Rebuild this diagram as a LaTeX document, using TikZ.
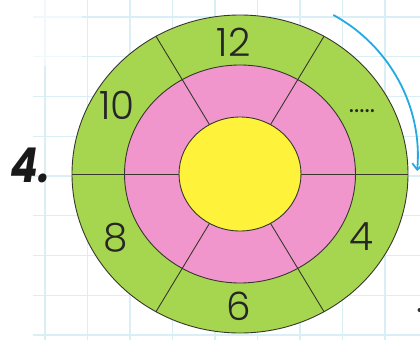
\documentclass[tikz,border=0pt]{standalone}
\usepackage{fontspec}
\setmainfont{Poppins}
\IfFontExistsTF{Poppins Light}{\newfontfamily\digitfont{Poppins Light}}{\newfontfamily\digitfont{Poppins}}
\usetikzlibrary{arrows.meta}
\definecolor{ringgreen}{RGB}{166,214,79}
\definecolor{ringpink}{RGB}{240,150,204}
\definecolor{coreyellow}{RGB}{255,242,58}
\definecolor{gridblue}{RGB}{218,238,246}
\definecolor{arcblue}{RGB}{35,170,226}
\definecolor{inkline}{RGB}{55,55,45}
\tikzset{
  gridline/.style={draw=gridblue, line width=1.2pt},
  ringline/.style={draw=inkline, line width=0.9pt},
  numlabel/.style={inner sep=0pt, font=\digitfont\fontsize{39}{39}\selectfont, text=black!85},
}
\begin{document}
\begin{tikzpicture}[x=1pt,y=-1pt]
\useasboundingbox (0,0) rectangle (420,340);
\fill[white] (0,0) rectangle (420,340);
% grid
\foreach \x in {45,87.5,...,400} \draw[gridline] (\x,0) -- (\x,340);
\foreach \y in {17,56.75,...,340} \draw[gridline] (33,\y) -- (420,\y);
\fill[white, opacity=0.6] (33,0) rectangle (82,66);
% rings
\coordinate (c) at (240,174);
\filldraw[ringline, fill=ringgreen] (c) ellipse [x radius=168pt, y radius=159pt];
\filldraw[ringline, fill=ringpink] (c) ellipse [x radius=115.5pt, y radius=109pt];
\filldraw[ringline, fill=coreyellow] (c) ellipse [x radius=61pt, y radius=57pt];
% spokes
\foreach \t in {0,60,120,180,240,300}
  \draw[ringline] ({240+61*cos(\t)},{174-57*sin(\t)}) -- ({240+168*cos(\t)},{174-159*sin(\t)});
% labels
\node[numlabel] (n12) at (233.5,42) {12};
\node[numlabel] (n10) at (117,105.5) {10};
\node[numlabel] (n8) at (115.5,237.5) {8};
\node[numlabel] (n4) at (361,237) {4};
\node[numlabel] (n6) at (239,306) {6};
\node[inner sep=0pt, font=\fontsize{25}{25}\selectfont, text=black!85] (dots) at (362,110.7) {.....};
% exercise number
\node[inner sep=0pt, font=\fontsize{48}{48}\selectfont\bfseries\itshape, text=black!90] (num) at (30,165) {\scalebox{0.85}[1]{4.}};
% blue arc arrow
\coordinate (arcstart) at (333.3,15);
\draw[arcblue, line width=1.8pt, -{Straight Barb[length=6pt,width=11pt]}] (arcstart) arc[start angle=61.5, end angle=-5, radius=161.5pt];
% cut-off mark
\fill[black!80] (419.5,310) circle (2pt);
\end{tikzpicture}
\end{document}
